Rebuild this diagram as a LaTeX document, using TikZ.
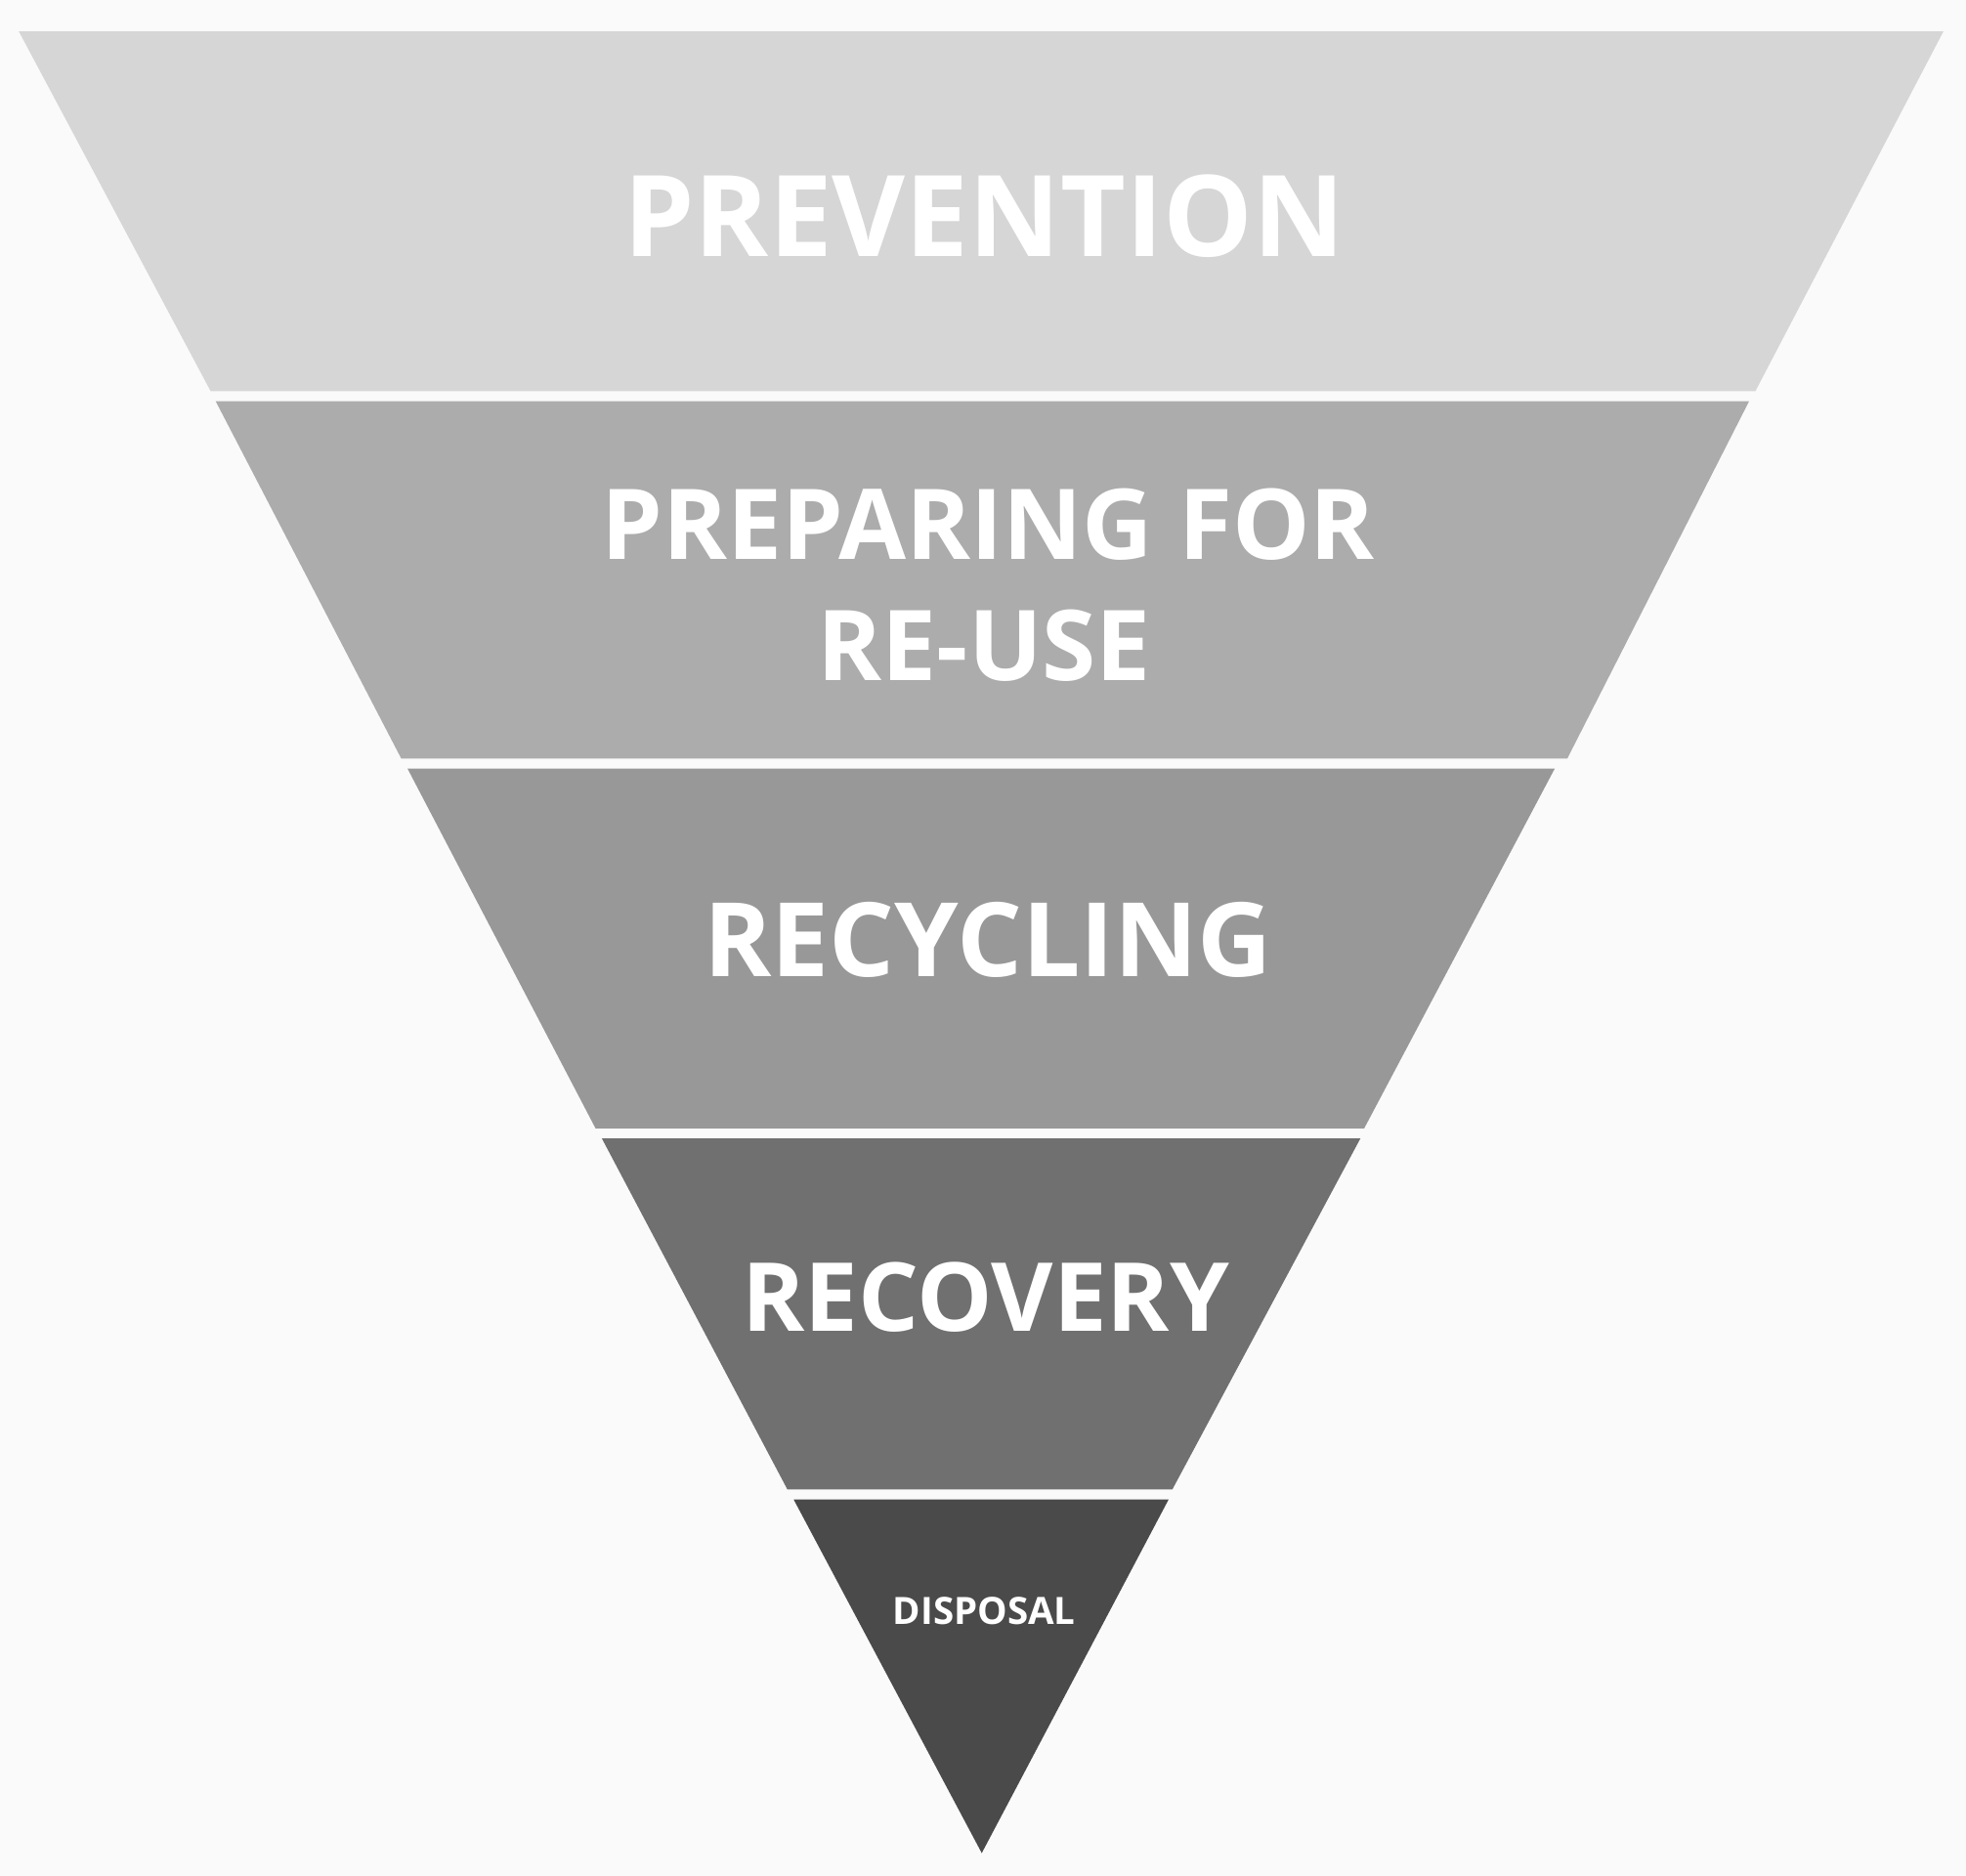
\documentclass[tikz,border=0pt]{standalone}
\usepackage{fontspec}
\setmainfont{Open Sans}
\begin{document}
\begin{tikzpicture}[x=1pt,y=-1pt,
 lbl/.style={text=white,font=\bfseries,inner sep=0pt,anchor=center}]
\fill[white!98!black] (0,0) rectangle (1568,1496);
\useasboundingbox (0,0) rectangle (1568,1496);
\fill[fill={rgb,255:red,214;green,214;blue,214}] (15,25) -- (1550,25) -- (1400,312) -- (168,312) -- cycle;
\fill[fill={rgb,255:red,172;green,172;blue,172}] (172,320) -- (1395,320) -- (1250,605) -- (320,605) -- cycle;
\fill[fill={rgb,255:red,152;green,152;blue,152}] (325,613) -- (1240,613) -- (1088,900) -- (475,900) -- cycle;
\fill[fill={rgb,255:red,112;green,112;blue,112}] (480,908) -- (1085,908) -- (935,1188) -- (628,1188) -- cycle;
\fill[fill={rgb,255:red,74;green,74;blue,74}] (633,1196) -- (932,1196) -- (783,1478) -- cycle;
\node[lbl,font=\fontsize{90}{100}\selectfont\bfseries] (p) at (785,172) {PREVENTION};
\node[lbl,font=\fontsize{78}{88}\selectfont\bfseries] (r1) at (788,418) {PREPARING FOR};
\node[lbl,font=\fontsize{78}{88}\selectfont\bfseries] (r2) at (785,515) {RE-USE};
\node[lbl,font=\fontsize{82}{92}\selectfont\bfseries] (rc) at (788,750) {RECYCLING};
\node[lbl,font=\fontsize{76}{86}\selectfont\bfseries] (rv) at (786,1035) {RECOVERY};
\node[lbl,font=\fontsize{30}{36}\selectfont\bfseries] (d) at (785,1285) {DISPOSAL};
\end{tikzpicture}
\end{document}
